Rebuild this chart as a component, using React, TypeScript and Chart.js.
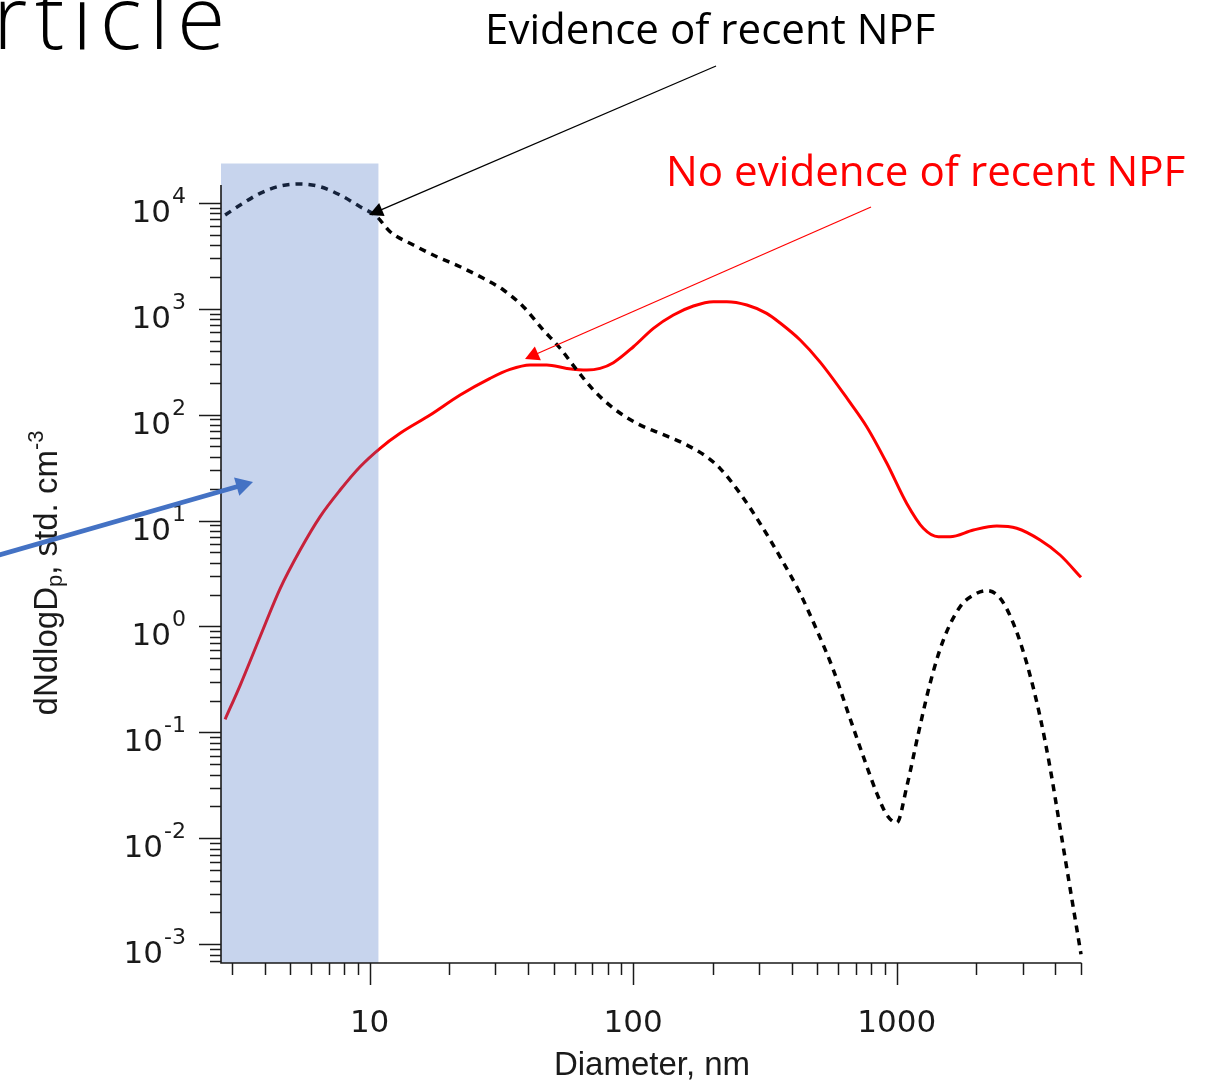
import { useEffect, useRef } from "react";
import { Chart, registerables } from "chart.js";

Chart.register(...registerables);

const WIDTH = 1211;
const HEIGHT = 1082;

// Size distribution with evidence of recent new particle formation (NPF)
const npfDiameter = [
  2.83, 3.23, 3.84, 4.58, 5.45, 6.49, 7.73, 9.2, 10.65, 11.96, 14.66, 17.99, 22.05,
  27.0, 32.2, 38.3, 45.6, 52.8, 61.1, 70.6, 84.1, 103, 126.5, 155, 190, 213.5, 254.3,
  302.8, 360.7, 429.5, 497, 575, 655, 747, 840, 917, 1000, 1091, 1208, 1338, 1502,
  1739, 1953, 2195, 2466, 2769, 3113, 3497, 3814, 4163, 4541, 5000,
];
const npfConcentration = [
  7660, 9510, 12270, 14380, 15010, 14160, 11820, 9170, 7375, 5325, 3988, 3093, 2488,
  1934, 1500, 1043, 629, 423, 264, 171, 115, 82.8, 66.6, 53.6, 40.0, 31.1, 18.07,
  9.415, 4.55, 2.06, 0.926, 0.388, 0.151, 0.059, 0.0266, 0.0166, 0.01406, 0.0307,
  0.098, 0.291, 0.745, 1.536, 1.98, 2.18, 1.85, 1.07, 0.449, 0.1406, 0.0468,
  0.01268, 0.00343, 0.000805,
];

// Size distribution with no evidence of recent NPF
const quietDiameter = [
  2.83, 3.23, 3.84, 4.58, 5.45, 6.49, 7.73, 9.2, 10.96, 13.05, 16.96, 22.05, 28.65,
  34.1, 40.6, 47.0, 56.0, 66.7, 74.9, 84.1, 100.2, 119.3, 142.1, 169.2, 201.5, 226.5,
  270, 321, 361, 430, 512, 655, 769, 917, 1091, 1261, 1438, 1593, 1953, 2395, 2852,
  3497, 4164, 5000,
];
const quietConcentration = [
  0.133, 0.28, 0.8, 2.29, 5.27, 10.9, 19.4, 32.2, 48.1, 66.6, 99, 153, 220, 267, 294,
  294, 273, 263, 273, 309, 437, 652, 871, 1059, 1163, 1163, 1082, 903, 732, 506, 313,
  137, 76.9, 34.7, 14.5, 8.45, 7.03, 7.03, 8.14, 8.88, 8.45, 6.55, 4.73, 2.91,
];

// Axis ranges and labelled ticks
const diameterRange = [2.73, 5000];
const concentrationRange = [6.66e-4, 1.47e4];
const diameterTickLabels = [10, 100, 1000];
const decadeExponents = [-3, -2, -1, 0, 1, 2, 3, 4];

// Nucleation-mode window (nm) shaded across the plot
const nucleationWindow = [2.73, 10.8];

// Arrow anchors in data space: [diameter, dN/dlogDp]
const npfPointer = { from: [206.2, 1.952e5], to: [9.95, 7654] };
const quietPointer = { from: [798.6, 9108], to: [38.87, 334.6] };
const windowPointer = { from: [0.379, 4.62], to: [3.611, 23.1] };

const TICK_FONT = '"DejaVu Sans", sans-serif';
const TITLE_FONT = '"Liberation Sans", Arial, sans-serif';
const NOTE_FONT = '"Open Sans", "Noto Sans", sans-serif';
const INK = "#1a1a1a";

function drawArrow(
  ctx: CanvasRenderingContext2D,
  x0: number,
  y0: number,
  x1: number,
  y1: number,
  color: string,
  lineWidth: number,
  headLength: number,
  headHalf: number
) {
  const dx = x1 - x0;
  const dy = y1 - y0;
  const len = Math.hypot(dx, dy);
  const ux = dx / len;
  const uy = dy / len;
  const bx = x1 - ux * headLength;
  const by = y1 - uy * headLength;
  ctx.save();
  ctx.strokeStyle = color;
  ctx.fillStyle = color;
  ctx.lineWidth = lineWidth;
  ctx.setLineDash([]);
  ctx.beginPath();
  ctx.moveTo(x0, y0);
  ctx.lineTo(bx + ux, by + uy);
  ctx.stroke();
  ctx.beginPath();
  ctx.moveTo(x1, y1);
  ctx.lineTo(bx - uy * headHalf, by + ux * headHalf);
  ctx.lineTo(bx + uy * headHalf, by - ux * headHalf);
  ctx.closePath();
  ctx.fill();
  ctx.restore();
}

// Draw text so its ink spans [left, right] on the given baseline
function fitText(
  ctx: CanvasRenderingContext2D,
  text: string,
  left: number,
  right: number,
  baseline: number,
  family: string,
  color: string,
  weight = "400"
) {
  ctx.save();
  ctx.font = `${weight} 100px ${family}`;
  const m = ctx.measureText(text);
  const ink = m.actualBoundingBoxLeft + m.actualBoundingBoxRight;
  const size = (100 * (right - left)) / ink;
  ctx.font = `${weight} ${size}px ${family}`;
  const m2 = ctx.measureText(text);
  ctx.fillStyle = color;
  ctx.textAlign = "left";
  ctx.textBaseline = "alphabetic";
  ctx.fillText(text, left + m2.actualBoundingBoxLeft, baseline);
  ctx.restore();
}

// Draw text letter by letter, spread so its ink spans [left, right]
function spreadText(
  ctx: CanvasRenderingContext2D,
  text: string,
  left: number,
  right: number,
  baseline: number,
  font: string,
  color: string
) {
  ctx.save();
  ctx.font = font;
  ctx.fillStyle = color;
  ctx.textAlign = "left";
  ctx.textBaseline = "alphabetic";
  const chars = text.split("");
  const adv = chars.map((c) => ctx.measureText(c).width);
  const first = ctx.measureText(chars[0]);
  const last = ctx.measureText(chars[chars.length - 1]);
  const natural =
    adv.slice(0, -1).reduce((a, b) => a + b, 0) + last.actualBoundingBoxRight + first.actualBoundingBoxLeft;
  const gap = (right - left - natural) / (chars.length - 1);
  let x = left + first.actualBoundingBoxLeft;
  chars.forEach((c, i) => {
    ctx.fillText(c, x, baseline);
    x += adv[i] + gap;
  });
  ctx.restore();
}

const decorations = {
  id: "decorations",
  afterDatasetsDraw(chart: any) {
    const { ctx, chartArea, scales } = chart;
    const x = scales.x;
    const x0 = x.getPixelForValue(nucleationWindow[0]);
    const x1 = x.getPixelForValue(nucleationWindow[1]);
    const top = chartArea.top - 21.5;
    ctx.save();
    ctx.fillStyle = "rgba(68, 114, 196, 0.3)";
    ctx.fillRect(x0, top, x1 - x0, chartArea.bottom - top);
    ctx.restore();
  },
  afterDraw(chart: any) {
    const { ctx, chartArea, scales } = chart;
    const x = scales.x;
    const y = scales.y;
    const { left, right, top, bottom } = chartArea;

    ctx.save();
    // axis lines
    ctx.strokeStyle = INK;
    ctx.lineWidth = 1.6;
    ctx.beginPath();
    ctx.moveTo(left, top);
    ctx.lineTo(left, bottom);
    ctx.lineTo(right + 0.5, bottom);
    ctx.stroke();

    // tick marks: majors at decades, minors at 2..9 of each decade
    ctx.lineWidth = 1.5;
    const [ymin, ymax] = concentrationRange;
    const [xmin, xmax] = diameterRange;
    for (let e = -4; e <= 4; e++) {
      for (let m = 1; m <= 9; m++) {
        const v = m * Math.pow(10, e);
        if (v < ymin * 0.999 || v > ymax * 1.001) continue;
        const py = Math.round(y.getPixelForValue(v)) + 0.5;
        const len = m === 1 ? 22 : 11;
        ctx.beginPath();
        ctx.moveTo(left - len, py);
        ctx.lineTo(left, py);
        ctx.stroke();
      }
    }
    for (let e = 0; e <= 3; e++) {
      for (let m = 1; m <= 9; m++) {
        const v = m * Math.pow(10, e);
        if (v < xmin * 0.999 || v > xmax * 1.001) continue;
        const px = Math.round(x.getPixelForValue(v)) + 0.5;
        const len = m === 1 ? 22 : 12;
        ctx.beginPath();
        ctx.moveTo(px, bottom);
        ctx.lineTo(px, bottom + len);
        ctx.stroke();
      }
    }

    // y tick labels: 10 with superscript exponent
    ctx.fillStyle = INK;
    ctx.textBaseline = "alphabetic";
    ctx.textAlign = "left";
    for (const e of decadeExponents) {
      const py = y.getPixelForValue(Math.pow(10, e));
      const sup = String(e);
      ctx.font = `31px ${TICK_FONT}`;
      const mainW = ctx.measureText("10").width;
      ctx.font = `22px ${TICK_FONT}`;
      const supW = ctx.measureText(sup).width;
      const startX = left - 36 - supW - mainW;
      ctx.font = `31px ${TICK_FONT}`;
      ctx.fillText("10", startX, py + 19);
      ctx.font = `22px ${TICK_FONT}`;
      ctx.fillText(sup, startX + mainW + 1, py);
    }

    // x tick labels
    ctx.font = `31px ${TICK_FONT}`;
    ctx.textAlign = "center";
    for (const v of diameterTickLabels) {
      ctx.fillText(String(v), x.getPixelForValue(v), bottom + 69);
    }

    // x axis title
    ctx.font = `33px ${TITLE_FONT}`;
    ctx.fillText("Diameter, nm", (left + right) / 2 + 1, bottom + 112);

    // y axis title, rotated, with subscript and superscript
    const parts = [
      { t: "dNdlogD", size: 33, dy: 0 },
      { t: "p", size: 22, dy: 5 },
      { t: ", std. cm", size: 33, dy: 0 },
      { t: "-3", size: 22, dy: -14 },
    ];
    let total = 0;
    const widths = parts.map((p) => {
      ctx.font = `${p.size}px ${TITLE_FONT}`;
      const w = ctx.measureText(p.t).width;
      total += w;
      return w;
    });
    ctx.save();
    ctx.translate(57, (top + bottom) / 2 - 1);
    ctx.rotate(-Math.PI / 2);
    ctx.textAlign = "left";
    let cx = -total / 2;
    parts.forEach((p, i) => {
      ctx.font = `${p.size}px ${TITLE_FONT}`;
      ctx.fillText(p.t, cx, p.dy);
      cx += widths[i];
    });
    ctx.restore();
    ctx.restore();

    // annotations
    const px = (v: number[]) => [x.getPixelForValue(v[0]), y.getPixelForValue(v[1])];
    const [a0, a1] = [px(npfPointer.from), px(npfPointer.to)];
    drawArrow(ctx, a0[0], a0[1], a1[0], a1[1], "#000000", 1.3, 14, 7);
    const [b0, b1] = [px(quietPointer.from), px(quietPointer.to)];
    drawArrow(ctx, b0[0], b0[1], b1[0], b1[1], "#ff0000", 1.2, 14, 7.5);
    const [c0, c1] = [px(windowPointer.from), px(windowPointer.to)];
    drawArrow(ctx, c0[0], c0[1], c1[0], c1[1], "#4472c4", 4.8, 17, 9.5);

    fitText(ctx, "Evidence of recent NPF", 489, 935, 43.5, NOTE_FONT, "#000000");
    fitText(ctx, "No evidence of recent NPF", 670, 1185, 185.5, NOTE_FONT, "#ff0000");

    // slide title, running off the top-left corner
    spreadText(ctx, "rticle", 0, 221, 49, `300 88px ${NOTE_FONT}`, "#000000");
  },
};

export default function App() {
  const canvasRef = useRef<HTMLCanvasElement | null>(null);

  useEffect(() => {
    const canvas = canvasRef.current;
    if (!canvas) return;
    const chart = new Chart(canvas, {
      type: "line",
      data: {
        datasets: [
          {
            label: "Evidence of recent NPF",
            data: npfDiameter.map((d, i) => ({ x: d, y: npfConcentration[i] })),
            borderColor: "#000000",
            borderWidth: 3.5,
            borderDash: [7, 6],
            borderCapStyle: "butt",
            pointRadius: 0,
            cubicInterpolationMode: "monotone",
            fill: false,
            clip: false as any,
          },
          {
            label: "No evidence of recent NPF",
            data: quietDiameter.map((d, i) => ({ x: d, y: quietConcentration[i] })),
            borderColor: "#ff0000",
            borderWidth: 3,
            pointRadius: 0,
            cubicInterpolationMode: "monotone",
            fill: false,
            clip: false as any,
          },
        ],
      },
      options: {
        animation: false,
        responsive: false,
        devicePixelRatio: 1,
        events: [],
        layout: { padding: { left: 221, right: WIDTH - 1081, top: 185, bottom: HEIGHT - 963 } },
        plugins: { legend: { display: false }, tooltip: { enabled: false } },
        scales: {
          x: {
            type: "logarithmic",
            min: diameterRange[0],
            max: diameterRange[1],
            grid: { display: false },
            border: { display: false },
            ticks: { display: false },
            afterFit: (s: any) => {
              s.height = 0;
            },
          },
          y: {
            type: "logarithmic",
            min: concentrationRange[0],
            max: concentrationRange[1],
            grid: { display: false },
            border: { display: false },
            ticks: { display: false },
            afterFit: (s: any) => {
              s.width = 0;
            },
          },
        },
      },
      plugins: [decorations],
    });
    return () => chart.destroy();
  }, []);

  return (
    <div
      style={{
        position: "absolute",
        left: 0,
        top: 0,
        width: WIDTH,
        height: HEIGHT,
        background: "#ffffff",
        overflow: "hidden",
      }}
    >
      <canvas ref={canvasRef} width={WIDTH} height={HEIGHT} style={{ display: "block" }} />
    </div>
  );
}
